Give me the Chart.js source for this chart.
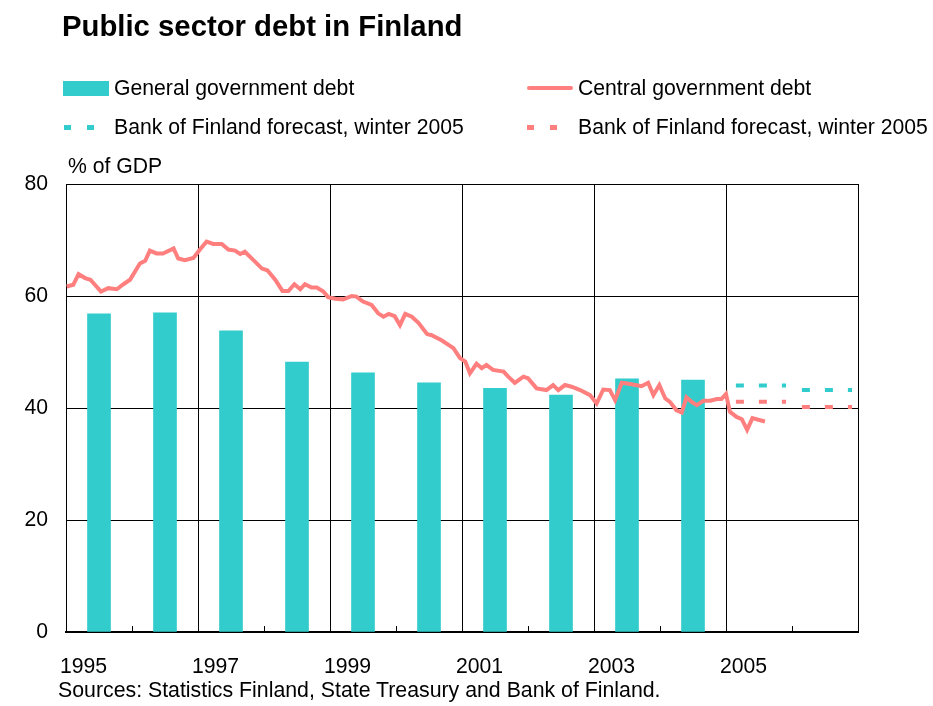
<!DOCTYPE html>
<html>
<head>
<meta charset="utf-8">
<script src="https://cdn.jsdelivr.net/npm/chart.js@4.4.1/dist/chart.umd.min.js"></script>
<style>
  body { margin: 0; background: #fff; font-family: "Liberation Sans", Arial, sans-serif; color: #000; }
  #wrap { position: relative; width: 933px; height: 706px; overflow: hidden; }
  #debtChart { position: absolute; left: 0; top: 0; }
  .txt { position: absolute; white-space: nowrap; }
  #title { left: 62px; top: 9px; font-size: 29.3px; font-weight: bold; }
  .leg { font-size: 21.2px; }
  .sw { position: absolute; }
  #unit { left: 68px; top: 154px; font-size: 21.2px; }
  #source { left: 58px; top: 678px; font-size: 21.3px; }
</style>
</head>
<body>
<div id="wrap">
  <canvas id="debtChart" width="933" height="706"></canvas>
  <div class="txt" id="title">Public sector debt in Finland</div>

  <div class="sw" style="left:63px;top:81px;width:46px;height:15px;background:#33CCCC"></div>
  <div class="txt leg" style="left:114px;top:76px">General government debt</div>
  <div class="sw" style="left:527px;top:86px;width:46px;height:4px;background:#FF7F7F;border-radius:2px"></div>
  <div class="txt leg" style="left:578px;top:76px">Central government debt</div>

  <div class="sw" style="left:64px;top:125px;width:7px;height:5px;background:#33CCCC"></div>
  <div class="sw" style="left:87px;top:125px;width:7px;height:5px;background:#33CCCC"></div>
  <div class="txt leg" style="left:114px;top:115px">Bank of Finland forecast, winter 2005</div>
  <div class="sw" style="left:527px;top:125px;width:7px;height:5px;background:#FF7F7F"></div>
  <div class="sw" style="left:550px;top:125px;width:7px;height:5px;background:#FF7F7F"></div>
  <div class="txt leg" style="left:578px;top:115px">Bank of Finland forecast, winter 2005</div>

  <div class="txt" id="unit">% of GDP</div>
  <div class="txt" id="source">Sources: Statistics Finland, State Treasury and Bank of Finland.</div>
</div>
<script>
// annual general government debt, % of GDP (bars at mid-year)
const barYears = [1995, 1996, 1997, 1998, 1999, 2000, 2001, 2002, 2003, 2004];
const generalDebt = [56.8, 57.0, 53.8, 48.2, 46.3, 44.5, 43.5, 42.3, 45.2, 45.0];

// central government debt
const centralYears = [
  1995.01, 1995.11, 1995.19, 1995.29, 1995.37, 1995.53, 1995.64, 1995.77, 1995.87, 1995.97,
  1996.12, 1996.20, 1996.27, 1996.37, 1996.47, 1996.63, 1996.70, 1996.80, 1996.93,
  1997.03, 1997.13, 1997.23, 1997.36, 1997.46, 1997.56, 1997.64, 1997.71, 1997.84, 1997.97,
  1998.05, 1998.17, 1998.28, 1998.37, 1998.46, 1998.55, 1998.62, 1998.72, 1998.80, 1998.90, 1998.97,
  1999.08, 1999.20, 1999.33, 1999.40, 1999.50, 1999.63, 1999.73, 1999.81, 1999.89, 1999.98,
  2000.06, 2000.14, 2000.24, 2000.34, 2000.47, 2000.54, 2000.69, 2000.87, 2000.97,
  2001.05, 2001.12, 2001.22, 2001.30, 2001.37, 2001.47, 2001.63, 2001.70, 2001.80, 2001.93,
  2002.00, 2002.13, 2002.28, 2002.38, 2002.46, 2002.56, 2002.66, 2002.79, 2002.94,
  2003.04, 2003.14, 2003.24, 2003.32, 2003.42, 2003.55, 2003.72, 2003.82, 2003.90, 2003.99,
  2004.08, 2004.15, 2004.25, 2004.33, 2004.40, 2004.48, 2004.56, 2004.66, 2004.76, 2004.86, 2004.93,
  2005.00, 2005.06, 2005.16, 2005.24, 2005.32, 2005.40, 2005.49, 2005.59
];
const centralDebt = [
  61.7, 62.0, 63.9, 63.2, 62.9, 60.8, 61.4, 61.2, 62.1, 62.9,
  65.8, 66.3, 68.1, 67.6, 67.6, 68.5, 66.7, 66.4, 66.8,
  68.3, 69.7, 69.3, 69.3, 68.3, 68.1, 67.5, 67.9, 66.4, 64.9,
  64.6, 62.9, 60.9, 60.9, 62.1, 61.2, 62.1, 61.5, 61.5, 60.8, 59.8,
  59.5, 59.4, 60.0, 59.9, 59.0, 58.4, 56.9, 56.3, 56.8, 56.4,
  54.8, 56.8, 56.3, 55.2, 53.2, 53.0, 52.1, 50.7, 48.9,
  48.3, 46.2, 47.9, 47.1, 47.7, 46.8, 46.5, 45.6, 44.5, 45.6,
  45.3, 43.5, 43.2, 44.1, 43.2, 44.1, 43.8, 43.2, 42.3,
  40.8, 43.3, 43.2, 41.4, 44.5, 44.3, 43.9, 44.5, 42.3, 44.1,
  41.7, 41.1, 39.6, 39.2, 41.9, 41.1, 40.5, 41.3, 41.3, 41.6, 41.6,
  42.5, 39.3, 38.4, 38.0, 36.1, 38.2, 37.9, 37.6
];

// Bank of Finland forecast, winter 2005
const forecastYears = [2005, 2006];
const forecastGeneral = [44.0, 43.2];
const forecastCentral = [41.1, 40.2];

const yTicks = [0, 20, 40, 60, 80];

const TEAL = '#33CCCC';
const SALMON = '#FF7F7F';

function forecastSets(values, color) {
  return values.map((v, i) => ({
    type: 'line',
    data: [{x: forecastYears[i] + 0.15, y: v}, {x: forecastYears[i] + 0.91, y: v}],
    borderColor: color,
    borderWidth: 4,
    borderDash: [8, 15],
    borderCapStyle: 'butt',
    pointRadius: 0,
    order: 1
  }));
}

// small inside tick marks on the bottom axis for each year
const yearTicks = {
  id: 'yearTicks',
  beforeDatasetsDraw(chart) {
    const x = chart.scales.x, area = chart.chartArea, ctx = chart.ctx;
    ctx.save();
    ctx.strokeStyle = '#000';
    ctx.lineWidth = 1;
    for (let yr = 1996; yr < 2007; yr += 2) {
      const px = Math.round(x.getPixelForValue(yr)) + 0.5;
      ctx.beginPath();
      ctx.moveTo(px, area.bottom);
      ctx.lineTo(px, area.bottom - 6);
      ctx.stroke();
    }
    ctx.restore();
  }
};

new Chart(document.getElementById('debtChart'), {
  type: 'bar',
  data: {
    datasets: [
      {
        type: 'line',
        data: centralYears.map((x, i) => ({x: x, y: centralDebt[i]})),
        borderColor: SALMON,
        borderWidth: 4,
        pointRadius: 0,
        tension: 0,
        order: 0
      },
      ...forecastSets(forecastGeneral, TEAL),
      ...forecastSets(forecastCentral, SALMON),
      {
        type: 'bar',
        data: barYears.map((x, i) => ({x: x + 0.5, y: generalDebt[i]})),
        backgroundColor: TEAL,
        barThickness: 23,
        order: 2
      }
    ]
  },
  options: {
    responsive: false,
    animation: false,
    devicePixelRatio: 1,
    layout: { padding: { left: 0, right: 75, top: 184, bottom: 0 } },
    plugins: { legend: { display: false }, tooltip: { enabled: false } },
    scales: {
      x: {
        type: 'linear',
        min: 1995,
        max: 2007,
        offset: false,
        afterFit: s => { s.height = 74; },
        ticks: {
          stepSize: 1,
          autoSkip: false,
          maxRotation: 0,
          align: 'start',
          labelOffset: -6,
          padding: 22,
          color: '#000',
          font: { family: 'Liberation Sans', size: 21.2 },
          callback: v => (v % 2 === 1 && v < 2007) ? String(v) : ''
        },
        grid: {
          offset: false,
          drawTicks: false,
          color: c => (c.tick && c.tick.value % 2 === 1) ? '#000' : 'rgba(0,0,0,0)'
        },
        border: { display: true, color: '#000', width: 2 }
      },
      y: {
        min: 0,
        max: 80,
        afterFit: s => { s.width = 66; },
        afterBuildTicks: s => { s.ticks = yTicks.map(v => ({value: v})); },
        ticks: {
          padding: 18,
          color: '#000',
          font: { family: 'Liberation Sans', size: 21.2 }
        },
        grid: { drawTicks: false, color: '#000' },
        border: { display: true, color: '#000', width: 1 }
      }
    }
  },
  plugins: [yearTicks]
});
</script>
</body>
</html>
